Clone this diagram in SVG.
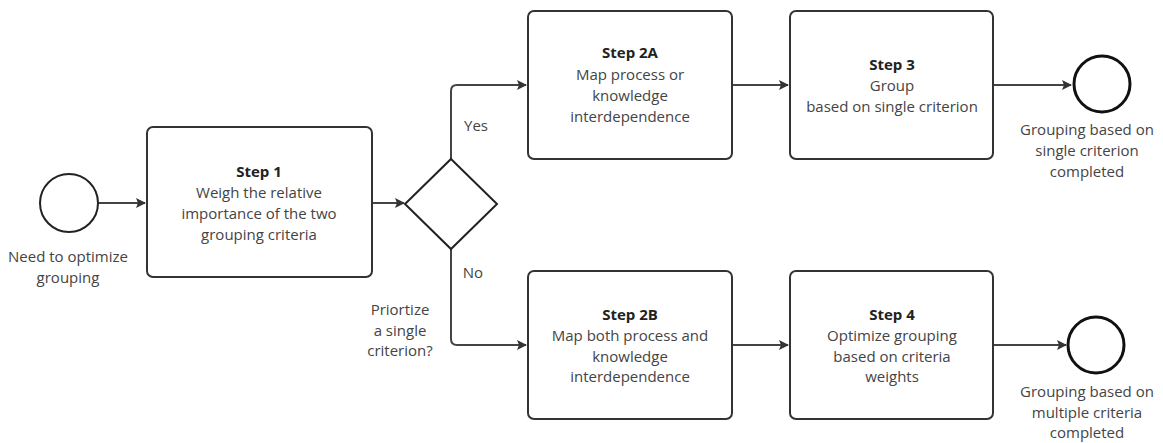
<svg xmlns="http://www.w3.org/2000/svg" width="1163" height="443" viewBox="0 0 1163 443">
<defs>
<marker id="ah" markerWidth="10" markerHeight="10" refX="9" refY="5" orient="auto" markerUnits="userSpaceOnUse">
<path d="M0,0 L10,5 L0,10 L2,5 Z" fill="#333"/>
</marker>
<style>
.box{fill:#fff;stroke:#333;stroke-width:2}
.ev{fill:#fff;stroke:#222;stroke-width:2}
.end{fill:#fff;stroke:#111;stroke-width:3}
.t{font-family:"Open Sans","Noto Sans",sans-serif;font-size:15px;fill:#444;text-anchor:middle}
.b{font-weight:bold;fill:#222}
.c{fill:none;stroke:#444;stroke-width:2}
</style>
</defs>
<rect width="1163" height="443" fill="#fff"/>
<g id="connectors">
<path class="c" d="M98,203 L145,203" marker-end="url(#ah)"/>
<path class="c" d="M373,203 L404,203" marker-end="url(#ah)"/>
<path class="c" d="M451,160 L451,91 Q451,85 457,85 L526,85" marker-end="url(#ah)"/>
<path class="c" d="M451,249 L451,339 Q451,345 457,345 L526,345" marker-end="url(#ah)"/>
<path class="c" d="M732,85 L788,85" marker-end="url(#ah)"/>
<path class="c" d="M732,345 L788,345" marker-end="url(#ah)"/>
<path class="c" d="M993,85 L1071,85" marker-end="url(#ah)"/>
<path class="c" d="M993,345 L1066,345" marker-end="url(#ah)"/>
<text class="t" x="476" y="131">Yes</text>
<text class="t" x="473" y="278">No</text>
</g>
<g id="start">
<circle class="ev" cx="69" cy="203" r="29"/>
<text class="t" x="68" y="262">Need to optimize</text>
<text class="t" x="68" y="283">grouping</text>
</g>
<g id="step1">
<rect class="box" x="147" y="127" width="225" height="150" rx="6"/>
<text class="t b" x="259" y="177">Step 1</text>
<text class="t" x="259" y="198">Weigh the relative</text>
<text class="t" x="259" y="219">importance of the two</text>
<text class="t" x="259" y="240">grouping criteria</text>
</g>
<g id="decision">
<path class="ev" d="M451,159 L497,204 L451,249 L405,204 Z"/>
<text class="t" x="400" y="315">Priortize</text>
<text class="t" x="400" y="336">a single</text>
<text class="t" x="400" y="356">criterion?</text>
</g>
<g id="step2a">
<rect class="box" x="528" y="11" width="204" height="148" rx="6"/>
<text class="t b" x="630" y="58">Step 2A</text>
<text class="t" x="630" y="80">Map process or</text>
<text class="t" x="630" y="101">knowledge</text>
<text class="t" x="630" y="122">interdependence</text>
</g>
<g id="step2b">
<rect class="box" x="528" y="271" width="204" height="148" rx="6"/>
<text class="t b" x="630" y="320">Step 2B</text>
<text class="t" x="630" y="341">Map both process and</text>
<text class="t" x="630" y="362">knowledge</text>
<text class="t" x="630" y="382">interdependence</text>
</g>
<g id="step3">
<rect class="box" x="790" y="11" width="203" height="148" rx="6"/>
<text class="t b" x="892" y="70">Step 3</text>
<text class="t" x="892" y="91">Group</text>
<text class="t" x="892" y="112">based on single criterion</text>
</g>
<g id="step4">
<rect class="box" x="790" y="271" width="203" height="148" rx="6"/>
<text class="t b" x="892" y="320">Step 4</text>
<text class="t" x="892" y="341">Optimize grouping</text>
<text class="t" x="892" y="362">based on criteria</text>
<text class="t" x="892" y="382">weights</text>
</g>
<g id="end1">
<circle class="end" cx="1102" cy="84" r="28"/>
<text class="t" x="1087" y="135">Grouping based on</text>
<text class="t" x="1087" y="156">single criterion</text>
<text class="t" x="1087" y="177">completed</text>
</g>
<g id="end2">
<circle class="end" cx="1096" cy="345" r="28"/>
<text class="t" x="1087" y="397">Grouping based on</text>
<text class="t" x="1087" y="418">multiple criteria</text>
<text class="t" x="1087" y="438">completed</text>
</g>
</svg>
